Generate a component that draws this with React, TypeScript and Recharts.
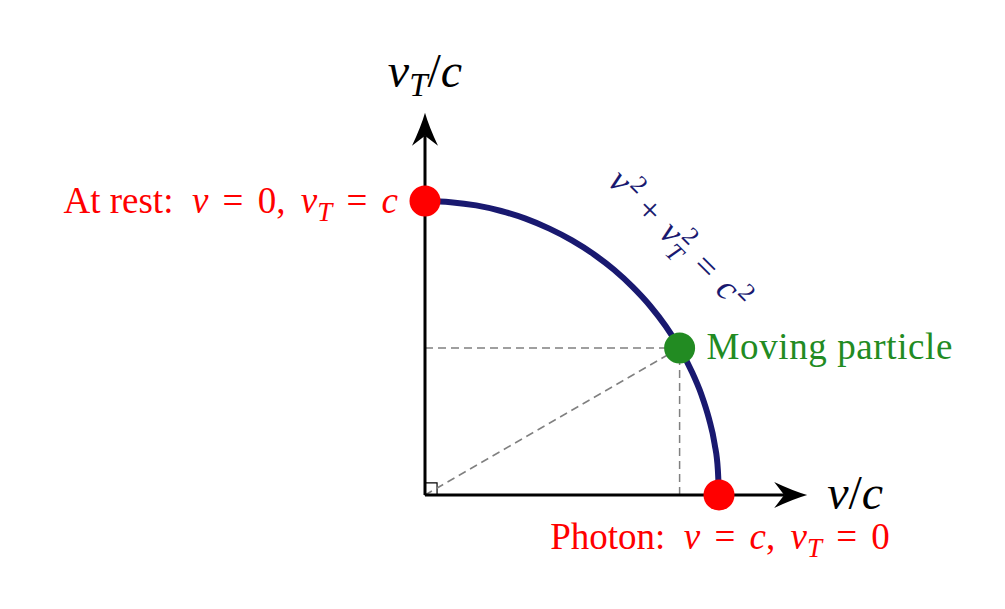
import type { ReactNode } from 'react';
import {
  ComposedChart,
  Line,
  ReferenceArea,
  ReferenceLine,
  Scatter,
  XAxis,
  YAxis,
} from 'recharts';

// quarter circle v^2 + vT^2 = c^2 (v/c, vT/c)
const arcV = [0, 0.087, 0.174, 0.259, 0.342, 0.423, 0.5, 0.574, 0.643, 0.707, 0.766, 0.819, 0.866, 0.906, 0.94, 0.966, 0.985, 0.996, 1];
const arcVt = [1, 0.996, 0.985, 0.966, 0.94, 0.906, 0.866, 0.819, 0.766, 0.707, 0.643, 0.574, 0.5, 0.423, 0.342, 0.259, 0.174, 0.087, 0];

const pointNames = ['rest', 'photon', 'particle'];
const pointV = [0, 1, 0.866];
const pointVt = [1, 0, 0.5];

const axisLength = 1.3;
const cornerSize = 0.041;

const NAVY = '#191970';
const RED = '#ff0000';
const GREEN = '#228b22';
const GRAY = '#808080';
const FONT = '"Liberation Serif", "Times New Roman", serif';

const W = 1005;
const H = 609;
// origin sits at (425, 495), one unit of c is 294px
const X_DOMAIN = [-425 / 294, (W - 425) / 294];
const Y_DOMAIN = [-(H - 495) / 294, 495 / 294];

const arcData = arcV.map((v, i) => ({ v, vt: arcVt[i] }));
const pointData = pointNames.map((name, i) => ({ name, v: pointV[i], vt: pointVt[i] }));
const particle = pointData[2];
const eqAnchor = [{ v: arcV[9], vt: arcVt[9] }];

const It = ({ children }: { children: ReactNode }) => <tspan fontStyle="italic">{children}</tspan>;
// math-style equals sign with wider side bearings
const Eq = () => (
  <>
    <tspan dx={5}>=</tspan>
    <tspan dx={5}> </tspan>
  </>
);

function arrowShape(label: ReactNode, dir: 'x' | 'y') {
  return (props: any) => {
    const { x1, y1, x2, y2 } = props;
    const len = Math.hypot(x2 - x1, y2 - y1);
    const ux = (x2 - x1) / len;
    const uy = (y2 - y1) / len;
    const px = -uy;
    const py = ux;
    const back = 33;
    const half = 13;
    const notch = 23;
    const bx = x2 - ux * back;
    const by = y2 - uy * back;
    const nx = x2 - ux * notch;
    const ny = y2 - uy * notch;
    const head = `M${x2},${y2} Q${x2 - ux * 14 + px * 4},${y2 - uy * 14 + py * 4} ${bx + px * half},${by + py * half} L${nx},${ny} L${bx - px * half},${by - py * half} Q${x2 - ux * 14 - px * 4},${y2 - uy * 14 - py * 4} ${x2},${y2} Z`;
    return (
      <g>
        <line x1={x1} y1={y1} x2={nx} y2={ny} stroke="#000" strokeWidth={3} />
        <path d={head} fill="#000" />
        {dir === 'x' ? (
          <text x={x2 + 20} y={y2 + 14} fontFamily={FONT} fontSize={48} fill="#000" style={{ whiteSpace: 'pre' }}>
            {label}
          </text>
        ) : (
          <text x={x2} y={y2 - 26} textAnchor="middle" fontFamily={FONT} fontSize={48} fill="#000" style={{ whiteSpace: 'pre' }}>
            {label}
          </text>
        )}
      </g>
    );
  };
}

function PointMark(props: any) {
  const { cx, cy, payload } = props;
  const name = payload.name;
  const color = name === 'particle' ? GREEN : RED;
  const textProps = { fontFamily: FONT, fontSize: 37, fill: color, style: { whiteSpace: 'pre' as const } };
  let label: ReactNode = null;
  if (name === 'rest') {
    label = (
      <text x={cx - 27} y={cy + 12} textAnchor="end" {...textProps}>
        {'At rest:  '}
        <It>v</It>
        {' '}
        <Eq />
        {'0,'}
        <tspan dx={6}> </tspan>
        <It>v</It>
        <tspan fontStyle="italic" fontSize={27} dy={8}>T</tspan>
        <tspan dy={-8}>{' '}</tspan>
        <Eq />
        <It>c</It>
      </text>
    );
  } else if (name === 'photon') {
    label = (
      <text x={cx + 1} y={cy + 54} textAnchor="middle" {...textProps}>
        {'Photon:  '}
        <It>v</It>
        {' '}
        <Eq />
        <It>c</It>
        {','}
        <tspan dx={6}> </tspan>
        <It>v</It>
        <tspan fontStyle="italic" fontSize={27} dy={8}>T</tspan>
        <tspan dy={-8}>{' '}</tspan>
        <Eq />
        0
      </text>
    );
  } else {
    label = (
      <text x={cx + 27} y={cy + 11} letterSpacing={0.6} {...textProps}>
        Moving particle
      </text>
    );
  }
  return (
    <g>
      <circle cx={cx} cy={cy} r={15.5} fill={color} />
      {label}
    </g>
  );
}

function EquationMark(props: any) {
  const { cx, cy } = props;
  const x = cx + 46;
  const y = cy - 47;
  return (
    <text
      x={0}
      y={11}
      transform={`translate(${x},${y}) rotate(45)`}
      textAnchor="middle"
      fontFamily={FONT}
      fontSize={36}
      fill={NAVY}
      style={{ whiteSpace: 'pre' }}
    >
      <It>v</It>
      <tspan fontSize={25} dx={2} dy={-14}>2</tspan>
      <tspan dx={9} dy={14}>+</tspan>
      <tspan dx={4}> </tspan>
      <It>v</It>
      <tspan fontSize={25} dx={2} dy={-14}>2</tspan>
      <tspan fontSize={25} fontStyle="italic" dx={-13} dy={23}>T</tspan>
      <tspan dx={4} dy={-9}> </tspan>
      <tspan dx={2}>=</tspan>
      <tspan dx={4}> </tspan>
      <It>c</It>
      <tspan fontSize={25} dx={2} dy={-14}>2</tspan>
    </text>
  );
}

export default function App() {
  return (
    <div style={{ position: 'absolute', left: 0, top: 0, width: W, height: H, background: '#fff' }}>
      <ComposedChart width={W} height={H} margin={{ top: 0, right: 0, bottom: 0, left: 0 }}>
        <XAxis type="number" dataKey="v" domain={X_DOMAIN} allowDataOverflow hide />
        <YAxis type="number" dataKey="vt" domain={Y_DOMAIN} allowDataOverflow hide />
        <ReferenceArea x1={0} x2={cornerSize} y1={0} y2={cornerSize} fill="none" stroke="#000" strokeWidth={1.2} />
        <ReferenceLine
          segment={[{ x: 0, y: particle.vt }, { x: particle.v, y: particle.vt }]}
          stroke={GRAY}
          strokeWidth={1.5}
          strokeDasharray="8 5"
        />
        <ReferenceLine
          segment={[{ x: particle.v, y: 0 }, { x: particle.v, y: particle.vt }]}
          stroke={GRAY}
          strokeWidth={1.5}
          strokeDasharray="8 5"
        />
        <ReferenceLine
          segment={[{ x: 0, y: 0 }, { x: particle.v, y: particle.vt }]}
          stroke={GRAY}
          strokeWidth={1.5}
          strokeDasharray="8 5"
        />
        <ReferenceLine
          segment={[{ x: 0, y: 0 }, { x: axisLength, y: 0 }]}
          shape={arrowShape(<><It>v</It>/<It>c</It></>, 'x')}
        />
        <ReferenceLine
          segment={[{ x: 0, y: 0 }, { x: 0, y: axisLength }]}
          shape={arrowShape(
            <>
              <It>v</It>
              <tspan fontStyle="italic" fontSize={33} dy={9}>T</tspan>
              <tspan dy={-9}>/</tspan>
              <It>c</It>
            </>,
            'y',
          )}
        />
        <Line
          data={arcData}
          dataKey="vt"
          type="monotone"
          stroke={NAVY}
          strokeWidth={6}
          dot={false}
          activeDot={false}
          isAnimationActive={false}
        />
        <Scatter data={eqAnchor} shape={EquationMark} isAnimationActive={false} />
        <Scatter data={pointData} shape={PointMark} isAnimationActive={false} />
      </ComposedChart>
    </div>
  );
}
